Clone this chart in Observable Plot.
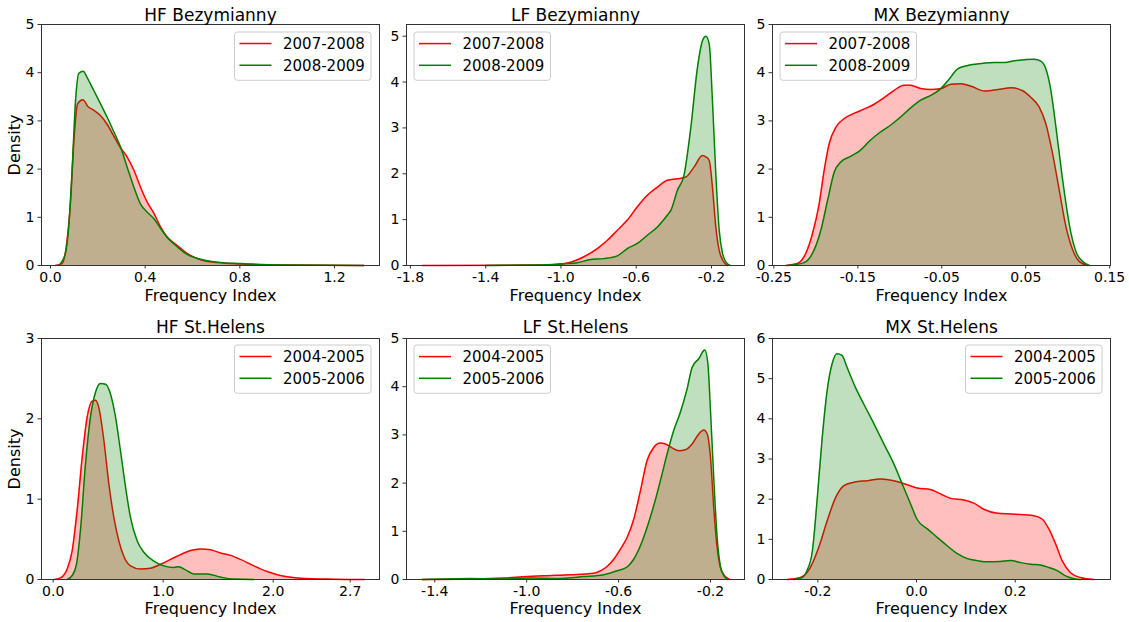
<!DOCTYPE html>
<html>
<head>
<meta charset="utf-8">
<script src="https://cdn.jsdelivr.net/npm/d3@7"></script>
<script src="https://cdn.jsdelivr.net/npm/@observablehq/plot@0.6"></script>
<style>
  body { margin: 0; background: #fff; }
  #wrap { position: relative; width: 1129px; height: 622px; font-family: "DejaVu Sans", sans-serif; }
  #wrap svg { position: absolute; overflow: visible; }
</style>
</head>
<body>
<div id="wrap"></div>
<script>
// ---- series labels ----
const bezLabels = ["2007-2008", "2008-2009"];
const shLabels = ["2004-2005", "2005-2006"];

// ---- HF Bezymianny ----
const hfBezX_a = [0.02,0.049,0.070,0.085,0.099,0.115,0.137,0.158,0.183,0.211,0.239,0.268,0.296,0.324,0.352,0.380,0.408,0.437,0.465,0.493,0.535,0.577,0.634,0.704,0.803,0.986,1.324];
const hfBezY_a = [0,0.04,0.52,1.35,2.6,3.36,3.44,3.30,3.22,3.11,2.93,2.68,2.44,2.25,1.98,1.63,1.32,1.08,0.80,0.59,0.42,0.25,0.12,0.06,0.03,0.01,0];
const hfBezX_b = [0.035,0.063,0.077,0.092,0.106,0.120,0.138,0.155,0.183,0.211,0.239,0.268,0.296,0.324,0.352,0.380,0.408,0.437,0.465,0.493,0.535,0.577,0.634,0.704,0.803,0.986,1.324];
const hfBezY_b = [0,0.25,0.8,2.04,3.43,3.99,4.03,3.90,3.63,3.36,3.08,2.77,2.46,2.04,1.63,1.28,1.11,0.97,0.77,0.58,0.39,0.23,0.13,0.07,0.04,0.01,0];

// ---- LF Bezymianny ----
const lfBezX_a = [-1.738,-1.126,-1.02,-0.949,-0.878,-0.807,-0.753,-0.700,-0.647,-0.594,-0.541,-0.487,-0.434,-0.381,-0.336,-0.292,-0.248,-0.230,-0.212,-0.195,-0.177,-0.159,-0.141,-0.115];
const lfBezY_a = [0,0.01,0.02,0.07,0.19,0.37,0.55,0.77,0.99,1.28,1.53,1.71,1.86,1.89,1.93,2.15,2.40,2.37,2.29,1.71,0.84,0.33,0.12,0];
const lfBezX_b = [-1.40,-1.126,-0.984,-0.913,-0.842,-0.771,-0.700,-0.647,-0.594,-0.541,-0.487,-0.434,-0.416,-0.381,-0.346,-0.310,-0.275,-0.248,-0.230,-0.212,-0.195,-0.177,-0.159,-0.141,-0.124,-0.100];
const lfBezY_b = [0,0.01,0.04,0.06,0.13,0.15,0.21,0.37,0.48,0.66,0.84,1.10,1.20,1.64,1.97,3.0,4.3,4.9,5.0,4.83,3.6,2.0,0.77,0.26,0.08,0];

// ---- MX Bezymianny ----
const mxBezX_a = [-0.236,-0.222,-0.212,-0.204,-0.196,-0.190,-0.184,-0.176,-0.166,-0.154,-0.142,-0.131,-0.119,-0.107,-0.095,-0.087,-0.075,-0.063,-0.051,-0.039,-0.027,-0.015,0.001,0.017,0.033,0.047,0.056,0.066,0.074,0.082,0.090,0.098,0.106,0.114,0.124];
const mxBezY_a = [0,0.04,0.25,0.66,1.28,1.98,2.53,2.87,3.05,3.16,3.25,3.34,3.48,3.63,3.74,3.74,3.67,3.65,3.67,3.76,3.77,3.72,3.62,3.65,3.69,3.62,3.49,3.29,2.94,2.32,1.56,0.80,0.32,0.08,0];
const mxBezX_b = [-0.234,-0.214,-0.204,-0.194,-0.186,-0.178,-0.170,-0.158,-0.147,-0.135,-0.123,-0.111,-0.099,-0.087,-0.075,-0.063,-0.051,-0.041,-0.031,-0.019,-0.003,0.013,0.025,0.037,0.049,0.060,0.068,0.074,0.080,0.086,0.092,0.098,0.104,0.110,0.118,0.126];
const mxBezY_b = [0,0.06,0.25,0.73,1.35,1.94,2.15,2.27,2.39,2.60,2.77,2.91,3.08,3.27,3.43,3.53,3.67,3.87,4.08,4.15,4.19,4.21,4.21,4.25,4.27,4.28,4.24,4.08,3.63,2.87,2.04,1.28,0.66,0.28,0.08,0];

// ---- HF St.Helens ----
const hfShX_a = [0.006,0.067,0.127,0.173,0.218,0.264,0.309,0.355,0.385,0.415,0.461,0.506,0.552,0.597,0.642,0.703,0.794,0.885,0.976,1.067,1.158,1.248,1.339,1.430,1.521,1.612,1.703,1.824,1.945,2.097,2.248,2.55,2.83];
const hfShY_a = [0,0.02,0.13,0.36,0.86,1.52,2.02,2.22,2.23,2.14,1.73,1.19,0.77,0.48,0.29,0.17,0.13,0.14,0.19,0.25,0.31,0.36,0.38,0.37,0.33,0.30,0.25,0.17,0.10,0.04,0.017,0.004,0];
const hfShX_b = [0.127,0.173,0.212,0.248,0.294,0.339,0.385,0.430,0.476,0.521,0.567,0.612,0.658,0.703,0.764,0.824,0.915,1.006,1.097,1.142,1.203,1.279,1.400,1.521,1.642,1.824];
const hfShY_b = [0,0.05,0.19,0.61,1.44,2.02,2.33,2.44,2.43,2.31,2.02,1.60,1.15,0.77,0.48,0.34,0.23,0.17,0.15,0.16,0.12,0.07,0.07,0.03,0.005,0];

// ---- LF St.Helens ----
const lfShX_a = [-1.455,-1.245,-1.100,-0.998,-0.911,-0.810,-0.708,-0.679,-0.650,-0.621,-0.592,-0.563,-0.534,-0.505,-0.476,-0.447,-0.418,-0.396,-0.367,-0.338,-0.309,-0.280,-0.251,-0.229,-0.215,-0.200,-0.186,-0.171,-0.157,-0.139,-0.116];
const lfShY_a = [0,0.01,0.03,0.06,0.08,0.10,0.13,0.18,0.27,0.42,0.63,0.87,1.25,1.84,2.47,2.74,2.83,2.81,2.73,2.67,2.69,2.81,3.02,3.10,3.03,2.53,1.50,0.66,0.25,0.08,0];
const lfShX_b = [-1.455,-1.245,-1.100,-0.984,-0.868,-0.751,-0.664,-0.606,-0.563,-0.534,-0.505,-0.476,-0.447,-0.418,-0.389,-0.360,-0.331,-0.302,-0.280,-0.251,-0.225,-0.212,-0.200,-0.186,-0.171,-0.157,-0.142,-0.125];
const lfShY_b = [0,0.02,0.01,0.03,0.02,0.06,0.10,0.18,0.26,0.42,0.70,1.08,1.53,2.05,2.60,3.09,3.47,3.95,4.40,4.58,4.76,4.51,3.50,2.12,0.87,0.28,0.08,0];

// ---- MX St.Helens ----
const mxShX_a = [-0.262,-0.235,-0.215,-0.198,-0.181,-0.164,-0.147,-0.127,-0.100,-0.073,-0.046,-0.019,0.001,0.028,0.049,0.069,0.096,0.116,0.136,0.164,0.191,0.218,0.238,0.255,0.268,0.282,0.295,0.312,0.332,0.359];
const mxShY_a = [0,0.05,0.30,0.80,1.46,2.04,2.34,2.42,2.46,2.50,2.46,2.36,2.28,2.24,2.13,2.02,1.98,1.90,1.75,1.65,1.63,1.61,1.59,1.50,1.26,0.88,0.47,0.17,0.05,0];
const mxShX_b = [-0.249,-0.232,-0.222,-0.211,-0.201,-0.191,-0.181,-0.171,-0.161,-0.151,-0.141,-0.124,-0.107,-0.086,-0.066,-0.046,-0.026,-0.012,0.001,0.022,0.042,0.062,0.082,0.103,0.123,0.143,0.170,0.191,0.211,0.231,0.251,0.268,0.285,0.302,0.319,0.332];
const mxShY_b = [0,0.05,0.22,0.71,2.04,3.54,4.71,5.37,5.62,5.58,5.29,4.79,4.37,3.87,3.37,2.88,2.29,1.88,1.50,1.26,1.05,0.84,0.65,0.52,0.47,0.44,0.45,0.47,0.42,0.38,0.36,0.30,0.22,0.09,0.02,0];

// ---- tick labels ----
const hfBezTicks = [0.0, 0.4, 0.8, 1.2];
const lfBezTicks = [-1.8, -1.4, -1.0, -0.6, -0.2];
const mxBezTicks = [-0.25, -0.15, -0.05, 0.05, 0.15];
const hfShTicks = [0.0, 1.0, 2.0, 2.7];
const lfShTicks = [-1.4, -1.0, -0.6, -0.2];
const mxShTicks = [-0.2, 0.0, 0.2];
const yTicks5 = [0, 1, 2, 3, 4, 5];
const yTicks3 = [0, 1, 2, 3];
const yTicks6 = [0, 1, 2, 3, 4, 5, 6];

const colors = ["red", "green"];

const panels = [
  {title: "HF Bezymianny", labels: bezLabels, a: [hfBezX_a, hfBezY_a], b: [hfBezX_b, hfBezY_b],
   xDomain: [-0.038, 1.39], yDomain: [0, 5], xTicks: hfBezTicks, digits: 1, yTicks: yTicks5, legend: "right", row: 0, col: 0},
  {title: "LF Bezymianny", labels: bezLabels, a: [lfBezX_a, lfBezY_a], b: [lfBezX_b, lfBezY_b],
   xDomain: [-1.821, -0.0245], yDomain: [0, 5.255], xTicks: lfBezTicks, digits: 1, yTicks: yTicks5, legend: "left", row: 0, col: 1},
  {title: "MX Bezymianny", labels: bezLabels, a: [mxBezX_a, mxBezY_a], b: [mxBezX_b, mxBezY_b],
   xDomain: [-0.2516, 0.151], yDomain: [0, 5], xTicks: mxBezTicks, digits: 2, yTicks: yTicks5, legend: "left", row: 0, col: 2},
  {title: "HF St.Helens", labels: shLabels, a: [hfShX_a, hfShY_a], b: [hfShX_b, hfShY_b],
   xDomain: [-0.106, 2.966], yDomain: [0, 3], xTicks: hfShTicks, digits: 1, yTicks: yTicks3, legend: "right", row: 1, col: 0},
  {title: "LF St.Helens", labels: shLabels, a: [lfShX_a, lfShY_a], b: [lfShX_b, lfShY_b],
   xDomain: [-1.523, -0.052], yDomain: [0, 5], xTicks: lfShTicks, digits: 1, yTicks: yTicks5, legend: "left", row: 1, col: 1},
  {title: "MX St.Helens", labels: shLabels, a: [mxShX_a, mxShY_a], b: [mxShX_b, mxShY_b],
   xDomain: [-0.2918, 0.393], yDomain: [0, 6], xTicks: mxShTicks, digits: 1, yTicks: yTicks6, legend: "right", row: 1, col: 2}
];

const cols = [
  {left: 0, width: 380, ml: 41, mr: 1},
  {left: 380, width: 375, ml: 26, mr: 11},
  {left: 755, width: 374, ml: 17, mr: 19}
];
const rows = [
  {top: 0, height: 310, mt: 24, mb: 45, titleDy: -4, labelDy: 30, legendTop: 8},
  {top: 310, height: 312, mt: 28, mb: 43, titleDy: -5.5, labelDy: 29, legendTop: 7}
];

const wrap = document.getElementById("wrap");
const toRows = (xs, ys) => xs.map((x, i) => ({x, y: ys[i]}));

panels.forEach(p => {
  const c = cols[p.col], r = rows[p.row];
  const A = toRows(p.a[0], p.a[1]);
  const B = toRows(p.b[0], p.b[1]);
  const curve = "monotone-x";
  const marks = [
    Plot.areaY(A, {x: "x", y: "y", fill: colors[0], fillOpacity: 0.25, curve}),
    Plot.lineY(A, {x: "x", y: "y", stroke: colors[0], strokeWidth: 1.5, curve}),
    Plot.areaY(B, {x: "x", y: "y", fill: colors[1], fillOpacity: 0.25, curve}),
    Plot.lineY(B, {x: "x", y: "y", stroke: colors[1], strokeWidth: 1.5, curve}),
    Plot.frame({stroke: "#333", strokeWidth: 1}),
    Plot.axisX(p.xTicks, {anchor: "bottom", tickSize: 3.5, tickPadding: 3.5, label: null,
      tickFormat: d => d.toFixed(p.digits), fontSize: 14, stroke: "#333"}),
    Plot.axisY(p.yTicks, {anchor: "left", tickSize: 3.5, tickPadding: 3.5, label: null,
      tickFormat: d => String(d), fontSize: 14, stroke: "#333"}),
    Plot.text([p.title], {frameAnchor: "top", dy: r.titleDy, lineAnchor: "bottom", fontSize: 17, fill: "black"}),
    Plot.text(["Frequency Index"], {frameAnchor: "bottom", dy: r.labelDy, lineAnchor: "middle", fontSize: 16, fill: "black"})
  ];
  if (p.col === 0) {
    marks.push(Plot.text(["Density"], {frameAnchor: "left", dx: -26.5, rotate: -90, textAnchor: "middle", lineAnchor: "middle", fontSize: 16, fill: "black"}));
  }
  const svg = Plot.plot({
    width: c.width, height: r.height,
    marginLeft: c.ml, marginRight: c.mr, marginTop: r.mt, marginBottom: r.mb,
    x: {domain: p.xDomain},
    y: {domain: p.yDomain},
    style: {fontFamily: "DejaVu Sans, sans-serif", fontSize: "14px", background: "transparent", overflow: "visible", color: "black"},
    marks
  });
  svg.style.left = c.left + "px";
  svg.style.top = r.top + "px";
  wrap.appendChild(svg);

  // legend box (matplotlib style, inside the axes)
  const lw = 136.5, lh = 48.3;
  const lx = p.legend === "right" ? c.width - c.mr - 8 - lw : c.ml + 8;
  const ly = r.mt + r.legendTop;
  const g = d3.select(svg).append("g").attr("transform", `translate(${lx},${ly})`);
  g.append("rect").attr("width", lw).attr("height", lh).attr("rx", 3)
    .attr("fill", "white").attr("fill-opacity", 0.8).attr("stroke", "#cccccc").attr("stroke-width", 1);
  p.labels.forEach((lab, i) => {
    const yy = 11.6 + i * 21.7;
    g.append("line").attr("x1", 5).attr("x2", 37).attr("y1", yy).attr("y2", yy)
      .attr("stroke", colors[i]).attr("stroke-width", 1.5);
    g.append("text").attr("x", 48.5).attr("y", yy).attr("dy", "0.35em")
      .attr("text-anchor", "start")
      .attr("font-size", 15).attr("fill", "black").attr("font-family", "DejaVu Sans, sans-serif").text(lab);
  });
});
</script>
</body>
</html>
